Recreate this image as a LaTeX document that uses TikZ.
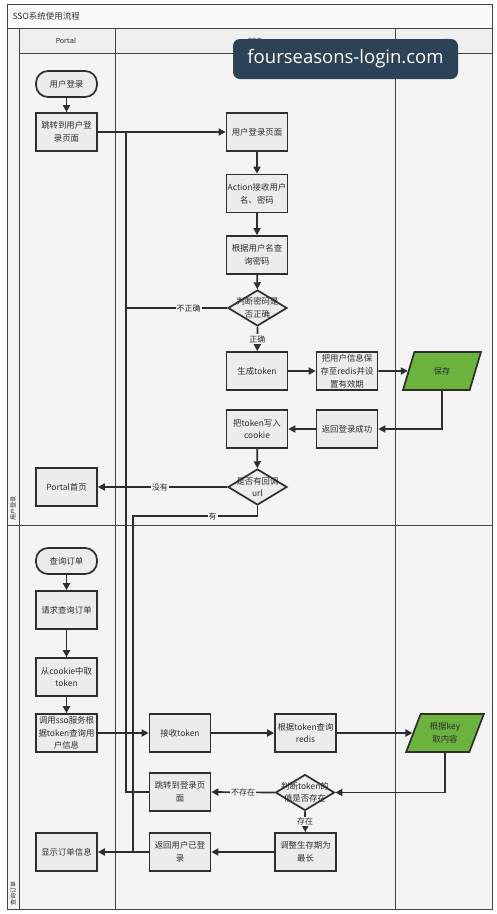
\documentclass[tikz,border=0pt]{standalone}
\usepackage{fontspec}
\setmainfont{Noto Sans CJK SC}
\newfontfamily\wmfont{Open Sans}
\newfontfamily\hdfont{DejaVu Sans}
\usetikzlibrary{shapes.geometric,arrows.meta}
\definecolor{inkc}{HTML}{2E2E2E}
\definecolor{boxfill}{HTML}{ECECEC}
\definecolor{grn}{HTML}{6CB33E}
\definecolor{wmc}{HTML}{2E4257}
\definecolor{lanebg}{HTML}{F4F4F4}
\definecolor{framec}{HTML}{444444}
\begin{document}
\begin{tikzpicture}[x=1pt,y=-1pt,
  box/.style={draw=inkc, line width=1.7pt, fill=boxfill, minimum width=61pt, minimum height=38pt,
    inner sep=0.5pt, align=center, font=\fontsize{8.4}{12.8}\selectfont, text=inkc},
  term/.style={box, rounded corners=12pt, minimum height=26pt},
  dia/.style={draw=inkc, line width=1.7pt, fill=boxfill, diamond, minimum width=59pt, minimum height=36pt, inner sep=0pt},
  diatext/.style={align=center, font=\fontsize{8.4}{12.5}\selectfont, text=inkc, inner sep=0pt},
  para/.style={draw=inkc, line width=1.7pt, fill=grn, trapezium, trapezium left angle=66, trapezium right angle=114,
    trapezium stretches=true, minimum width=78pt, minimum height=38pt, inner sep=0pt, align=center,
    font=\fontsize{8.4}{12.5}\selectfont, text=inkc},
  arr/.style={draw=inkc, line width=1.7pt, -{Triangle[length=7pt,width=7pt]}},
  wire/.style={draw=inkc, line width=1.7pt},
  lbl/.style={fill=lanebg, inner sep=1pt, font=\fontsize{8}{9}\selectfont, text=inkc},
  jdot/.style={circle, fill=inkc, inner sep=0pt, minimum size=3.5pt},
  frame/.style={draw=framec, line width=0.8pt},
  hdr/.style={font=\hdfont\fontsize{7}{8}\selectfont, text=inkc},
]
\useasboundingbox (0,0) rectangle (496,914);
\fill[white] (0,0) rectangle (496,914);
% pool background
\fill[lanebg] (7,4) rectangle (492,909);
\fill[white!60!lanebg] (7,4) rectangle (492,28);
\fill[boxfill!60!lanebg] (19,28) rectangle (492,53);
% frame and lanes
\draw[frame] (7,4) rectangle (492,909);
\draw[frame] (7,28) -- (492,28);
\draw[frame] (19,53) -- (492,53);
\draw[frame] (19,28) -- (19,909);
\draw[frame] (115,28) -- (115,909);
\draw[frame] (395,28) -- (395,909);
\draw[frame] (7,525) -- (492,525);

\node[anchor=west, font=\fontsize{8.5}{9}\selectfont, text=inkc] (title) at (9,16) {SSO系统使用流程};
\node[hdr] (hportal) at (66,41) {Portal};
\node[hdr] (hsso) at (255,41) {SSO};
\node[hdr, font=\hdfont\bfseries\fontsize{5.5}{6}\selectfont] (hredis) at (443,41) {Redis};
\node[rotate=90, font=\fontsize{6}{7}\selectfont, text=inkc] (lane1) at (13,508) {用户登录};
\node[rotate=90, font=\fontsize{6}{7}\selectfont, text=inkc] (lane2) at (13,893) {查询订单};

% ---- lane 1 nodes
\node[term] (start1) at (66.5,84) {用户登录};
\node[box] (jump1) at (66.5,132) {跳转到用户登\\录页面};
\node[box] (loginpg) at (257,132) {用户登录页面};
\node[box] (action) at (257,193.5) {Action接收用户\\名、密码};
\node[box] (query) at (257,255) {根据用户名查\\询密码};
\node[dia] (d1) at (257.5,308) {};
\node[diatext] (d1t) at (d1) {判断密码是\\否正确};
\node[box] (gen) at (257,371) {生成token};
\node[box] (store) at (347,371) {把用户信息保\\存至redis并设\\置有效期};
\node[para] (save) at (442,371) {保存};
\node[box] (succ) at (347,429) {返回登录成功};
\node[box] (cookie) at (257,429) {把token写入\\cookie};
\node[dia] (d2) at (257.5,487) {};
\node[diatext] (d2t) at (d2) {是否有回调\\url};
\node[box] (portal) at (66.5,487) {Portal首页};

% ---- lane 2 nodes
\node[term] (start2) at (66.5,561) {查询订单};
\node[box] (req) at (66.5,610) {请求查询订单};
\node[box] (fromck) at (66.5,677) {从cookie中取\\token};
\node[box] (call) at (66.5,733) {调用sso服务根\\据token查询用\\户信息};
\node[box] (recv) at (180,733) {接收token};
\node[box] (qredis) at (305.5,733) {根据token查询\\redis};
\node[para] (getkey) at (445,733) {根据key\\取内容};
\node[dia] (d3) at (305,792.5) {};
\node[diatext] (d3t) at (d3) {判断token的\\值是否存在};
\node[box] (jump2) at (180,792) {跳转到登录页\\面};
\node[box] (adj) at (305.5,852) {调整生存期为\\最长};
\node[box] (ret) at (180,852) {返回用户已登\\录};
\node[box] (disp) at (66.5,852) {显示订单信息};

\coordinate (jA) at (126,132);
\coordinate (jB) at (133,516);

% ---- lane 1 connectors
\draw[arr] (start1) -- (jump1);
\draw[arr] (jump1) -- (loginpg);
\draw[arr] (loginpg) -- (action);
\draw[arr] (action) -- (query);
\draw[arr] (query) -- (d1);
\draw[wire] (d1.west) -| node[lbl, pos=0.19] {不正确} (jA);
\draw[arr] (d1.south) -- node[lbl] {正确} (gen);
\draw[arr] (gen) -- (store);
\draw[arr] (store) -- (save);
\draw[arr] (save.south) |- (succ.east);
\draw[arr] (succ) -- (cookie);
\draw[arr] (cookie) -- (d2);
\draw[arr] (d2.west) -- node[lbl, pos=0.52] {没有} (portal.east);
\draw[wire] (d2.south) |- node[lbl, pos=0.68] {有} (jB) -- (jB |- disp.east);

% ---- lane 2 connectors
\draw[arr] (start2) -- (req);
\draw[arr] (req) -- (fromck);
\draw[arr] (fromck) -- (call);
\draw[arr] (call) -- (recv);
\draw[arr] (recv) -- (qredis);
\draw[arr] (qredis) -- (getkey);
\draw[arr] (getkey.south) |- (d3.east);
\draw[arr] (d3.west) -- node[lbl, pos=0.5] {不存在} (jump2.east);
\draw[wire] (jump2.west) -| (jA);
\draw[arr] (d3.south) -- node[lbl] {存在} (adj);
\draw[arr] (adj) -- (ret);
\draw[arr] (ret) -- (disp);

% crossing dots
\node[jdot] (x1) at (126,487) {};
\node[jdot] (x2) at (126,733) {};
\node[jdot] (x3) at (133,733) {};

% watermark
\node[fill=wmc, rounded corners=7pt, text=white, font=\wmfont\fontsize{18.5}{20}\selectfont,
  minimum width=225pt, minimum height=40pt, inner sep=0pt] (wm) at (345.5,59) {fourseasons-login.com};
\end{tikzpicture}
\end{document}
